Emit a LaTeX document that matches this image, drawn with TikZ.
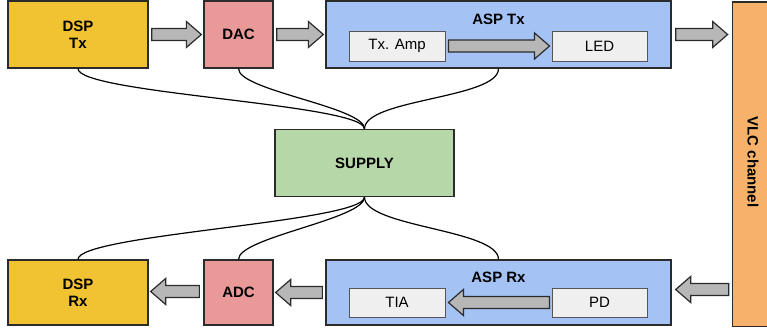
\documentclass[tikz,border=0pt]{standalone}
\usepackage{fontspec}
\setmainfont{Liberation Sans}
\usetikzlibrary{calc}
\definecolor{cdsp}{HTML}{F1C232}
\definecolor{cdac}{HTML}{EA9999}
\definecolor{casp}{HTML}{A4C2F4}
\definecolor{cin}{HTML}{EFEFEF}
\definecolor{csup}{HTML}{B6D7A8}
\definecolor{cvlc}{HTML}{F6B26B}
\definecolor{carr}{HTML}{B7B7B7}
\definecolor{cline}{HTML}{2B2B2B}
\tikzset{
  blk/.style={draw=cline, line width=1.3pt, inner sep=0pt, font=\fontsize{15}{17}\selectfont\bfseries, align=center},
  inbox/.style={draw=cline!80, line width=0.9pt, fill=cin, inner sep=0pt, font=\fontsize{15}{17}\selectfont},
  barrowstyle/.style={draw=cline, line width=1.2pt, fill=carr, line join=miter},
  wire/.style={draw=black, line width=1.2pt},
}
% horizontal block arrow: #1 start, #2 tip, #3 head length (signed, in pt)
\newcommand\barrow[3]{%
  \path[barrowstyle] let \p1=(#1), \p2=(#2) in
    (\x1,\y2+6pt) -- (\x2-#3,\y2+6pt) -- (\x2-#3,\y2+13pt) -- (\x2,\y2) --
    (\x2-#3,\y2-13pt) -- (\x2-#3,\y2-6pt) -- (\x1,\y2-6pt) -- cycle;}
\begin{document}
\begin{tikzpicture}[x=1pt,y=-1pt]
\useasboundingbox (0,0) rectangle (767,331);
% VLC channel
\node[blk, fill=cvlc, minimum width=60pt, minimum height=324pt, anchor=north west] (vlc) at (732,1.5) {};
\node[font=\fontsize{15}{17}\selectfont\bfseries, rotate=-90] (vlct) at (753,162) {VLC channel};
% top row
\node[blk, fill=cdsp, minimum width=140pt, minimum height=67pt] (dsptx) at (78,34.5) {DSP\\Tx};
\node[blk, fill=cdac, minimum width=69pt, minimum height=67pt] (dac) at (238.5,34.5) {DAC};
\node[blk, fill=casp, minimum width=345pt, minimum height=67pt] (asptx) at (498.5,34.5) {};
\node[font=\fontsize{15}{17}\selectfont\bfseries] (asptxt) at (498.5,19) {ASP Tx};
\node[inbox, minimum width=96pt, minimum height=30pt] (txamp) at (397,46) {Tx. Amp};
\node[inbox, minimum width=95pt, minimum height=30pt] (led) at (599.5,46) {LED};
% supply
\node[blk, fill=csup, minimum width=179pt, minimum height=67pt] (sup) at (364.5,163) {SUPPLY};
% bottom row
\node[blk, fill=cdsp, minimum width=140pt, minimum height=65pt] (dsprx) at (78,292.5) {DSP\\Rx};
\node[blk, fill=cdac, minimum width=69pt, minimum height=65pt] (adc) at (238.5,292.5) {ADC};
\node[blk, fill=casp, minimum width=345pt, minimum height=65pt] (asprx) at (498.5,292.5) {};
\node[font=\fontsize{15}{17}\selectfont\bfseries] (asprxt) at (498.5,277) {ASP Rx};
\node[inbox, minimum width=96pt, minimum height=29pt] (tia) at (397,302.5) {TIA};
\node[inbox, minimum width=95pt, minimum height=29pt] (pd) at (599.5,302.5) {PD};
% block arrows
\coordinate (a1s) at ($(dsptx.east)+(3,0)$); \coordinate (a1e) at ($(dac.west)+(-2,0)$);
\barrow{a1s}{a1e}{15pt}
\coordinate (a2s) at ($(dac.east)+(3,0)$); \coordinate (a2e) at ($(asptx.west)+(-2,0)$);
\barrow{a2s}{a2e}{15pt}
\coordinate (a3s) at ($(txamp.east)+(3,0)$); \coordinate (a3e) at ($(led.west)+(-2,0)$);
\barrow{a3s}{a3e}{15pt}
\coordinate (a4s) at ($(asptx.east)+(4,0)$); \coordinate (a4e) at ($(asptx.east)+(56,0)$);
\barrow{a4s}{a4e}{15pt}
\coordinate (b1s) at ($(asprx.east)+(57,-3)$); \coordinate (b1e) at ($(asprx.east)+(4,-3)$);
\barrow{b1s}{b1e}{-15pt}
\coordinate (b2s) at ($(pd.west)+(-2,0)$); \coordinate (b2e) at ($(tia.east)+(3,0)$);
\barrow{b2s}{b2e}{-15pt}
\coordinate (b3s) at ($(asprx.west)+(-3,0)$); \coordinate (b3e) at ($(adc.east)+(2,0)$);
\barrow{b3s}{b3e}{-15pt}
\coordinate (b4s) at ($(adc.west)+(-4,-1)$); \coordinate (b4e) at ($(dsprx.east)+(2,-1)$);
\barrow{b4s}{b4e}{-15pt}
% supply wires
\draw[wire] (dsptx.south) .. controls +(0,25) and +(0,-25) .. (sup.north);
\draw[wire] (dac.south) .. controls +(0,22) and +(0,-22) .. (sup.north);
\draw[wire] (asptx.south) .. controls +(0,30) and +(0,-30) .. (sup.north);
\draw[wire] (sup.south) .. controls +(0,25) and +(0,-25) .. (dsprx.north);
\draw[wire] (sup.south) .. controls +(0,22) and +(0,-22) .. (adc.north);
\draw[wire] (sup.south) .. controls +(0,30) and +(0,-30) .. (asprx.north);
\end{tikzpicture}
\end{document}
